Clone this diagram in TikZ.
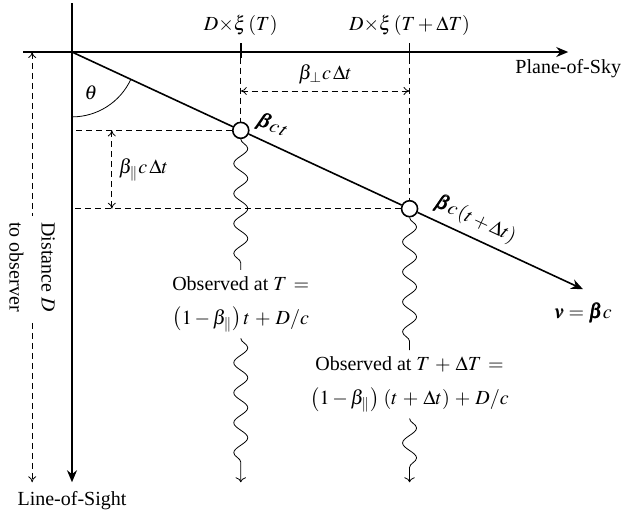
\documentclass[tikz,border=0pt]{standalone}
\usepackage{amsmath,amssymb}
\usepackage{mathptmx}
\usepackage[no-math]{fontspec}
\setmainfont{Liberation Serif}
\usepackage{bm}
\usepackage{tikz}
\usetikzlibrary{arrows.meta,calc,decorations.pathmorphing}
\tikzset{axis/.style={draw, thick, -{Stealth[length=6pt, width=5pt]}},
guide/.style={draw, dash pattern=on 3pt off 2pt},
measure/.style={guide, {To[length=3pt, width=4pt]}-{To[length=3pt, width=4pt]}},
particle/.style={draw, thick, fill=white, circle, inner sep=0pt, minimum size=8pt},
wave/.style={draw, decorate, decoration={snake, amplitude=3.5pt, segment length=15pt, post length=3pt}},
observed/.style={align=center, inner sep=3pt}}

\begin{document}
\begin{tikzpicture}
    \useasboundingbox (-1.265,0.914) rectangle (9.788,-8.207);
    % Define the origin and the positions of the blob
    \coordinate (origin) at (0, 0);
    \coordinate (top) at (0, 0.86);
    \coordinate (left) at (-0.86, 0);
    \coordinate (right) at (8.72, 0);
    \coordinate (bottom) at (0, -7.56);
    \coordinate (tip) at (-24.9:9.90);
    \node[particle] (pos1) at (-24.9:3.27) {};
    \node[particle] (pos2) at (-24.9:6.54) {};

    % Draw the axes and the velocity
    \draw[axis] (top) -- (bottom) node[below=1pt] (los) {Line-of-Sight};
    \draw[axis] (left) -- (right) node[below] (pos) {Plane-of-Sky};
    \draw[axis] (origin) -- (pos1) (pos1) -- (pos2) (pos2) -- (tip) node[below=3pt] (vel) {$\bm{v} = \bm{\beta}c$};
    \draw (0,-1.14) arc (-90:-24.9:1.14);
    \node (theta) at (-65:0.79) {$\theta$};

    % Ticks and projections
    \foreach \p/\t in {1/{T}, 2/{T+\Delta T}}{
        \coordinate (tick\p) at (pos\p |- origin);
        \draw[thick] ([yshift=-0.1cm]tick\p) -- ([yshift=0.16cm]tick\p) node[above] (xi\p) {$D{\times}\xi\,(\t)$};
        \draw[guide] ([yshift=-0.1cm]tick\p) -- (pos\p);
        \draw[guide] (pos\p) -- (pos\p -| origin);
    }
    \node[rotate=-24.9] (lab1) at ($(pos1)+(-24.9:0.47)+(65.1:0.30)$) {$\bm{\beta}c\,t$};
    \node[rotate=-24.9] (lab2) at ($(pos2)+(-24.9:1.13)+(65.1:0.31)$) {$\bm{\beta}c\,(t+\Delta t)$};

    % Displacements
    \coordinate (perp) at (0, -0.685);
    \coordinate (par) at (0.70, 0);
    \coordinate (dist) at (-0.70, 0);
    \draw[measure] (tick1 |- perp) -- (tick2 |- perp) node[midway, above] (dperp) {$\beta_\perp c\,\Delta t$};
    \draw[measure] (pos1 -| par) -- (pos2 -| par) node[midway, right] (dpar) {$\beta_\parallel c\,\Delta t$};
    \draw[measure] (dist) -- (dist |- bottom) node[midway, fill=white, rotate=-90, align=center] (ddist) {Distance $D$\\[4pt]to observer};

    % Light towards the observer
    \node[observed] (obs1) at (pos1 |- 0,-4.43) {Observed at $T\,=$\\[5pt]$\left(1-\beta_\parallel\right)t\,+\,D/c$};
    \node[observed] (obs2) at (pos2 |- 0,-5.84) {Observed at $T\,+\,\Delta T\,=$\\[5pt]$\left(1-\beta_\parallel\right)\,(t\,+\,\Delta t)\,+\,D/c$};
    \draw[wave] (pos1) -- (obs1);
    \draw[wave, ->] (obs1) -- (obs1 |- bottom);
    \draw[wave] (pos2) -- (obs2);
    \draw[wave, ->] (obs2) -- (obs2 |- bottom);
\end{tikzpicture}
\end{document}
